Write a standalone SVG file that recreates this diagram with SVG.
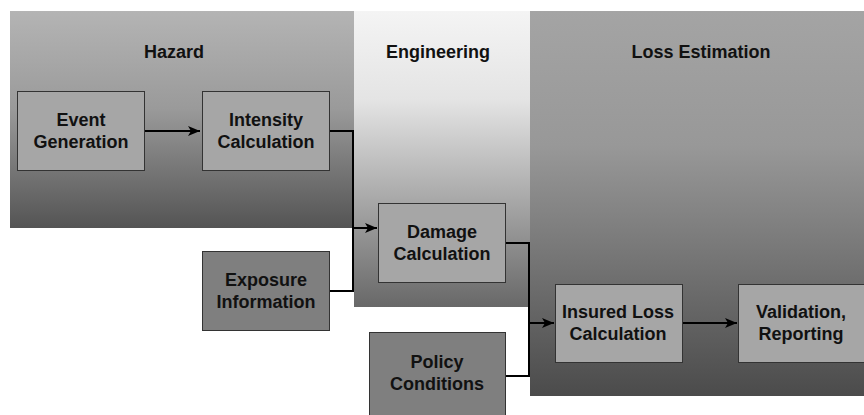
<svg xmlns="http://www.w3.org/2000/svg" width="864" height="415" viewBox="0 0 864 415">
<defs>
<linearGradient id="gHaz" x1="0" y1="0" x2="0" y2="1"><stop offset="0" stop-color="#b4b4b4"/><stop offset="0.45" stop-color="#9a9a9a"/><stop offset="1" stop-color="#545454"/></linearGradient>
<linearGradient id="gEng" x1="0" y1="0" x2="0" y2="1"><stop offset="0" stop-color="#f4f4f4"/><stop offset="0.3" stop-color="#e4e4e4"/><stop offset="1" stop-color="#686868"/></linearGradient>
<linearGradient id="gLoss" x1="0" y1="0" x2="0" y2="1"><stop offset="0" stop-color="#a4a4a4"/><stop offset="0.35" stop-color="#989898"/><stop offset="1" stop-color="#4b4b4b"/></linearGradient>
<marker id="arr" markerWidth="12" markerHeight="10" refX="12" refY="5" orient="auto" markerUnits="userSpaceOnUse"><path d="M0,0 L12,5 L0,10 L3,5 Z" fill="#000"/></marker>
</defs>
<style>
.t{font-family:"Liberation Sans",Arial,sans-serif;font-weight:bold;font-size:18px;fill:#111;text-anchor:middle}
.lb{fill:#a6a6a6;stroke:#333;stroke-width:1}
.db{fill:#7f7f7f;stroke:#333;stroke-width:1}
.c{fill:none;stroke:#000;stroke-width:2}
</style>
<g id="panels">
<rect id="hazard" x="10" y="11" width="344" height="217" fill="url(#gHaz)"/>
<rect id="engineering" x="354" y="11" width="176" height="296" fill="url(#gEng)"/>
<rect id="loss" x="530" y="11" width="334" height="385" fill="url(#gLoss)"/>
<text class="t" x="174" y="58">Hazard</text>
<text class="t" x="438" y="58">Engineering</text>
<text class="t" x="701" y="58">Loss Estimation</text>
</g>
<g id="connectors">
<path class="c" d="M145,131 L200,131" marker-end="url(#arr)"/>
<path class="c" d="M329,131 L353,131 L353,228 L377,228" marker-end="url(#arr)"/>
<path class="c" d="M329,291 L353,291 L353,228"/>
<path class="c" d="M505,243 L529,243 L529,323 L554,323" marker-end="url(#arr)"/>
<path class="c" d="M505,376 L529,376 L529,323"/>
<path class="c" d="M682,323 L737,323" marker-end="url(#arr)"/>
</g>
<g id="event"><rect class="lb" x="17.5" y="91.5" width="127" height="79"/><text class="t" x="81" y="126">Event</text><text class="t" x="81" y="148">Generation</text></g>
<g id="intensity"><rect class="lb" x="202.5" y="91.5" width="127" height="79"/><text class="t" x="266" y="126">Intensity</text><text class="t" x="266" y="148">Calculation</text></g>
<g id="damage"><rect class="lb" x="378.5" y="203.5" width="127" height="79"/><text class="t" x="442" y="238">Damage</text><text class="t" x="442" y="260">Calculation</text></g>
<g id="exposure"><rect class="db" x="202.5" y="251.5" width="127" height="79"/><text class="t" x="266" y="286">Exposure</text><text class="t" x="266" y="308">Information</text></g>
<g id="policy"><rect class="db" x="369.5" y="332.5" width="136" height="90"/><text class="t" x="437" y="368">Policy</text><text class="t" x="437" y="390">Conditions</text></g>
<g id="insured"><rect class="lb" x="555.5" y="284.5" width="127" height="78"/><text class="t" x="618" y="318">Insured Loss</text><text class="t" x="618" y="340">Calculation</text></g>
<g id="validation"><rect class="lb" x="738.5" y="284.5" width="127" height="78"/><text class="t" x="801" y="318">Validation,</text><text class="t" x="801" y="340">Reporting</text></g>
</svg>
